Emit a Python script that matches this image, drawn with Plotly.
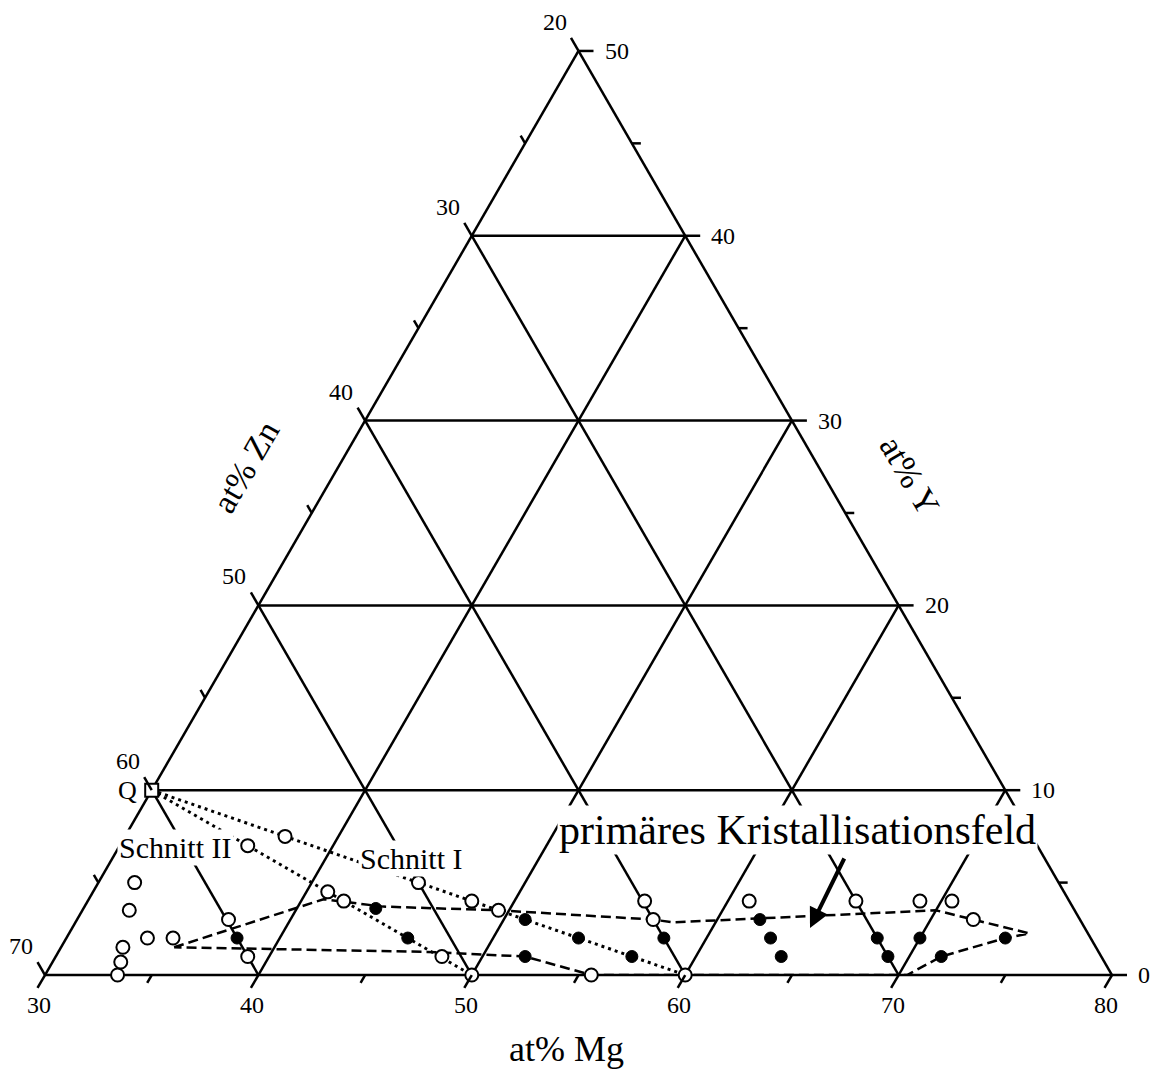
import plotly.graph_objects as go

# Messpunkte in at% (Zn ergibt sich aus 100 - Mg - Y)
offen_mg = [33.4, 33.2, 32.9, 33.8, 35.0, 32.2, 31.7, 36.0, 37.5, 37.1, 39.0, 41.0, 42.0, 45.0,
            48.0, 49.5, 48.1, 50.0, 55.6, 56.1, 57.0, 60.0, 61.0, 66.0, 69.0, 70.5, 72.0, 77.1]
offen_y = [0.0, 0.7, 1.5, 2.0, 2.0, 3.5, 5.0, 7.0, 7.5, 3.0, 1.0, 4.5, 4.0, 5.0,
           4.0, 3.5, 1.0, 0.0, 0.0, 4.0, 3.0, 0.0, 4.0, 4.0, 4.0, 4.0, 3.0, 3.0]

voll_mg = [38.0, 43.7, 46.0, 51.0, 52.0, 54.0, 57.0, 58.0, 62.0, 63.0, 64.0, 68.0, 69.0, 70.0, 71.5, 74.0]
voll_y = [2.0, 3.6, 2.0, 3.0, 1.0, 2.0, 1.0, 2.0, 3.0, 2.0, 1.0, 2.0, 1.0, 2.0, 1.0, 2.0]

q_mg = [30.0]
q_y = [10.0]

schnitt1_mg = [30.0, 60.0]
schnitt1_y = [10.0, 0.0]
schnitt2_mg = [30.0, 50.0]
schnitt2_y = [10.0, 0.0]

feld_mg = [35.3, 41.0, 44.0, 49.5, 57.0, 58.0, 70.0, 72.0, 75.0, 74.0, 71.5, 70.4, 55.6, 52.0, 47.3, 35.3]
feld_y = [1.5, 4.1, 3.7, 3.5, 3.0, 2.85, 3.5, 3.0, 2.25, 2.0, 1.0, 0.0, 0.0, 1.0, 1.25, 1.5]

# Gitterlinien
gitter_y = [10, 20, 30, 40]
gitter_mg = [40, 50, 60, 70]
gitter_zn = [30, 40, 50, 60]

# Teilung der drei Seiten
mg_ticks = [30, 35, 40, 45, 50, 55, 60, 65, 70, 75, 80]   # unten
y_ticks = [0, 5, 10, 15, 20, 25, 30, 35, 40, 45, 50]      # rechts
zn_ticks = [70, 65, 60, 55, 50, 45, 40, 35, 30, 25, 20]   # links

FONT = 'Liberation Serif'
W, H = 1150, 1070
X0, Y0, SEITE = 45, 975, 1067   # linke untere Ecke und Seitenlaenge in px
HOEHE = SEITE * 3 ** 0.5 / 2


def zn(mg, y):
    return [None if m is None else 100 - m - v for m, v in zip(mg, y)]


def px(x):
    return x / W


def py(y):
    return 1 - y / H


def lage(mg, y):
    # Zusammensetzung -> Papierkoordinaten (nur fuer Teilstriche und Beschriftung)
    x = X0 + (mg - 30 + y / 2) / 50 * SEITE
    yy = Y0 - y / 50 * HOEHE
    return px(x), py(yy)


def main():
    g_mg, g_y = [], []
    for v in gitter_y:
        g_mg += [30, 80 - v, None]
        g_y += [v, v, None]
    for m in gitter_mg:
        g_mg += [m, m, None]
        g_y += [0, 80 - m, None]
    for z in gitter_zn:
        g_mg += [100 - z, 30, None]
        g_y += [0, 70 - z, None]

    fig = go.Figure()
    fig.add_trace(go.Scatterternary(a=g_y, b=zn(g_mg, g_y), c=g_mg, mode='lines',
                                    line=dict(color='black', width=2.5), hoverinfo='skip'))
    for smg, sy in [(schnitt1_mg, schnitt1_y), (schnitt2_mg, schnitt2_y)]:
        fig.add_trace(go.Scatterternary(a=sy, b=zn(smg, sy), c=smg, mode='lines',
                                        line=dict(color='black', width=3, dash='3px,4px')))
    fig.add_trace(go.Scatterternary(a=feld_y, b=zn(feld_mg, feld_y), c=feld_mg, mode='lines',
                                    line=dict(color='black', width=2.5, dash='10px,5px')))
    fig.add_trace(go.Scatterternary(a=offen_y, b=zn(offen_mg, offen_y), c=offen_mg, mode='markers',
                                    cliponaxis=False,
                                    marker=dict(symbol='circle', size=13, color='white',
                                                line=dict(color='black', width=2))))
    fig.add_trace(go.Scatterternary(a=voll_y, b=zn(voll_mg, voll_y), c=voll_mg, mode='markers',
                                    cliponaxis=False,
                                    marker=dict(symbol='circle', size=12, color='black',
                                                line=dict(color='black', width=1))))
    fig.add_trace(go.Scatterternary(a=q_y, b=zn(q_mg, q_y), c=q_mg, mode='markers',
                                    cliponaxis=False,
                                    marker=dict(symbol='square', size=13, color='white',
                                                line=dict(color='black', width=2))))

    achse = dict(showgrid=False, showline=True, linecolor='black', linewidth=2.5,
                 ticks='', showticklabels=False, layer='below traces', title=dict(text=''))

    fig.update_layout(
        width=W, height=H,
        margin=dict(l=0, r=0, t=0, b=0),
        paper_bgcolor='white',
        showlegend=False,
        ternary=dict(
            sum=100,
            bgcolor='white',
            domain=dict(x=[px(X0), px(X0 + SEITE)], y=[py(Y0), py(Y0 - HOEHE)]),
            aaxis=dict(achse, min=0),
            baxis=dict(achse, min=20),
            caxis=dict(achse, min=30),
        ),
    )

    # Teilstriche und Zahlen an den drei Seiten
    seiten = [
        (zn_ticks, lambda z: (30, 70 - z), (-0.5, -0.866), (-24, -29), 'center'),
        (mg_ticks, lambda m: (m, 0), (-0.5, 0.866), (-6, 30), 'center'),
        (y_ticks, lambda v: (80 - v, v), (1.0, 0.0), (24, 0), 'left'),
    ]
    for werte, punkt, (dx, dy), (sx, sy), anker in seiten:
        for w in werte:
            x, y = lage(*punkt(w))
            lang = 15 if w % 10 == 0 else 9
            fig.add_shape(type='line', xref='paper', yref='paper', x0=x, y0=y,
                          x1=x + dx * lang / W, y1=y - dy * lang / H,
                          line=dict(color='black', width=2.5))
            if w % 10 == 0:
                fig.add_annotation(text=str(w), x=x, y=y, xref='paper', yref='paper',
                                   xshift=sx, yshift=-sy, showarrow=False,
                                   xanchor=anker, yanchor='middle',
                                   font=dict(family=FONT, size=24, color='black'))

    text = [
        ('Q', 127, 790, 26, 0, None),
        ('Schnitt II', 175, 847, 30, 0, 'white'),
        ('Schnitt I', 411, 858, 30, 0, 'white'),
        ('primäres Kristallisationsfeld', 797, 830, 42, 0, 'white'),
        ('at% Mg', 566, 1049, 36, 0, None),
        ('at% Zn', 245, 467, 34, -60, None),
        ('at% Y', 910, 475, 34, 60, None),
    ]
    for t, x, y, s, ang, bg in text:
        fig.add_annotation(text=t, x=px(x), y=py(y), xref='paper', yref='paper',
                           showarrow=False, textangle=ang, bgcolor=bg,
                           xanchor='center', yanchor='middle',
                           font=dict(family=FONT, size=s, color='black'))

    fig.add_annotation(text='', x=px(810), y=py(928), xref='paper', yref='paper',
                       ax=35, ay=-71, showarrow=True, arrowhead=2, arrowsize=1.0,
                       arrowwidth=4, arrowcolor='black')

    # ohne den Standardrand des body passt die Grafik genau ins Fenster
    fig.write_html('out.html', config={'displayModeBar': False},
                   post_script="document.body.style.margin = '0';")


if __name__ == '__main__':
    main()
